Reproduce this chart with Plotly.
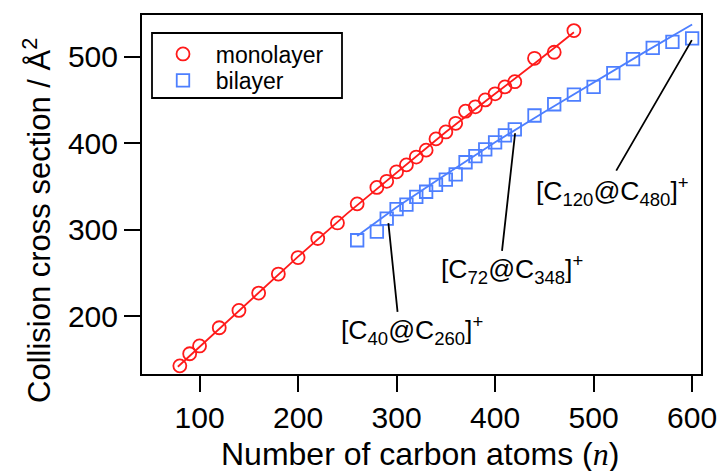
import plotly.graph_objects as go

# ---- data ----
mono_n = [80, 90, 100, 120, 140, 160, 180, 200, 220, 240, 260, 280, 290, 300, 310,
          320, 330, 340, 350, 360, 370, 380, 390, 400, 410, 420, 440, 460, 480]
mono_ccs = [143, 157, 166, 187, 207, 227, 249, 268, 290, 308, 330, 349, 356, 367, 375,
            384, 392, 405, 413, 423, 437, 442, 450, 457, 465, 471, 498, 505, 530]

bi_n = [260, 280, 290, 300, 310, 320, 330, 340, 350, 360, 370, 380, 390, 400, 410,
        420, 440, 460, 480, 500, 520, 540, 560, 580, 600]
bi_ccs = [288, 298, 313, 324, 329, 338, 344, 352, 358, 364, 378, 385, 393, 401, 409,
          416, 432, 445, 456, 465, 481, 497, 510, 517, 521]

# fitted curves
mono_fit_n = [78, 100, 150, 200, 250, 300, 350, 400, 420, 440, 460, 480]
mono_fit_ccs = [142, 165, 217, 269, 319, 366, 413, 457, 474, 492, 510, 528]
bi_fit_n = [260, 300, 350, 400, 450, 500, 550, 600]
bi_fit_ccs = [293, 326, 364, 401, 436, 470, 504, 537]

x_ticks = [100, 200, 300, 400, 500, 600]
y_ticks = [200, 300, 400, 500]

labels = ["[C<sub>40</sub>@C<sub>260</sub>]<sup>+</sup>",
          "[C<sub>72</sub>@C<sub>348</sub>]<sup>+</sup>",
          "[C<sub>120</sub>@C<sub>480</sub>]<sup>+</sup>"]
label_text_n = [316, 417, 519]
label_text_ccs = [184, 255, 345]
# leader lines: pointed-at cluster and the line's start next to the label
label_point_n = [291.7, 420.3, 599.7]
label_point_ccs = [307.7, 411.5, 519]
leader_start_n = [301.2, 406.8, 521.8]
leader_start_ccs = [203, 273.5, 366]

RED = "#ff1a1a"
BLUE = "#4d7fff"
FONT = "Liberation Sans, Arial, sans-serif"

W, H = 719, 471
# plot area in page pixels: left 142, right 701, top 15, bottom 374
L, T = 142, 15
R = W - 701
B = H - 374
PW, PH = W - L - R, H - T - B


def px(xp):  # page x -> paper fraction
    return (xp - L) / PW


def py(yp):  # page y -> paper fraction
    return 1 - (yp - T) / PH


fig = go.Figure()
fig.add_trace(go.Scatter(x=mono_fit_n, y=mono_fit_ccs, mode="lines",
                         line=dict(color=RED, width=1.8), showlegend=False, hoverinfo="skip"))
fig.add_trace(go.Scatter(x=bi_fit_n, y=bi_fit_ccs, mode="lines",
                         line=dict(color=BLUE, width=1.8), showlegend=False, hoverinfo="skip"))
fig.add_trace(go.Scatter(x=mono_n, y=mono_ccs, mode="markers",
                         name="&nbsp;&nbsp;monolayer", legend="legend",
                         marker=dict(symbol="circle-open", size=13, color=RED,
                                     line=dict(width=1.8, color=RED))))
fig.add_trace(go.Scatter(x=bi_n, y=bi_ccs, mode="markers",
                         name="&nbsp;&nbsp;bilayer", legend="legend2",
                         marker=dict(symbol="square-open", size=12.5, color=BLUE,
                                     line=dict(width=1.8, color=BLUE))))

for t, tn, tc in zip(labels, label_text_n, label_text_ccs):
    fig.add_annotation(x=tn, y=tc, xref="x", yref="y", text=t, showarrow=False,
                       xanchor="center", yanchor="middle",
                       font=dict(family=FONT, size=26.5, color="black"))

for pn, pc, sn, sc in zip(label_point_n, label_point_ccs, leader_start_n, leader_start_ccs):
    fig.add_annotation(x=pn, y=pc, ax=sn, ay=sc, axref="x", ayref="y", xref="x", yref="y",
                       text=" ", showarrow=True, arrowhead=0, arrowwidth=1.8,
                       arrowcolor="black", standoff=0, startstandoff=0,
                       font=dict(size=1))

# axis titles
fig.add_annotation(xref="paper", yref="paper", x=px(420), y=py(454),
                   text="Number of carbon atoms (<span style='font-family:Liberation Serif'><i>n</i></span>)",
                   showarrow=False, xanchor="center", yanchor="middle",
                   font=dict(family=FONT, size=32, color="black"))
fig.add_annotation(xref="paper", yref="paper", x=px(37), y=py(221),
                   text="Collision cross section / Å<sup>2</sup>", textangle=-90,
                   showarrow=False, xanchor="center", yanchor="middle",
                   font=dict(family=FONT, size=31, color="black"))

axis_common = dict(showline=True, linecolor="black", linewidth=2, mirror=True,
                   ticks="outside", ticklen=16, tickwidth=2, tickcolor="black",
                   showgrid=False, zeroline=False, automargin=False,
                   tickfont=dict(family=FONT, size=30, color="black"))

leg_common = dict(xanchor="left", yanchor="middle", bgcolor="rgba(0,0,0,0)", borderwidth=0,
                  font=dict(family=FONT, size=23, color="black"))

fig.update_layout(
    width=W, height=H,
    margin=dict(l=L, r=R, t=T, b=B, autoexpand=False),
    paper_bgcolor="white", plot_bgcolor="white",
    font=dict(family=FONT, color="black"),
    xaxis=dict(range=[41.6, 609], tickvals=x_ticks, **axis_common),
    yaxis=dict(range=[133.6, 548], tickvals=y_ticks, **axis_common),
    legend=dict(x=px(163), y=py(54), **leg_common),
    legend2=dict(x=px(163), y=py(80.5), **leg_common),
    shapes=[dict(type="rect", xref="paper", yref="paper",
                 x0=px(152), x1=px(342), y0=py(98), y1=py(33),
                 line=dict(color="black", width=1.8), fillcolor="rgba(0,0,0,0)")],
)

fig.write_html("out.html", config={"displayModeBar": False},
               post_script="document.body.style.margin='0';document.body.style.overflow='hidden';")
